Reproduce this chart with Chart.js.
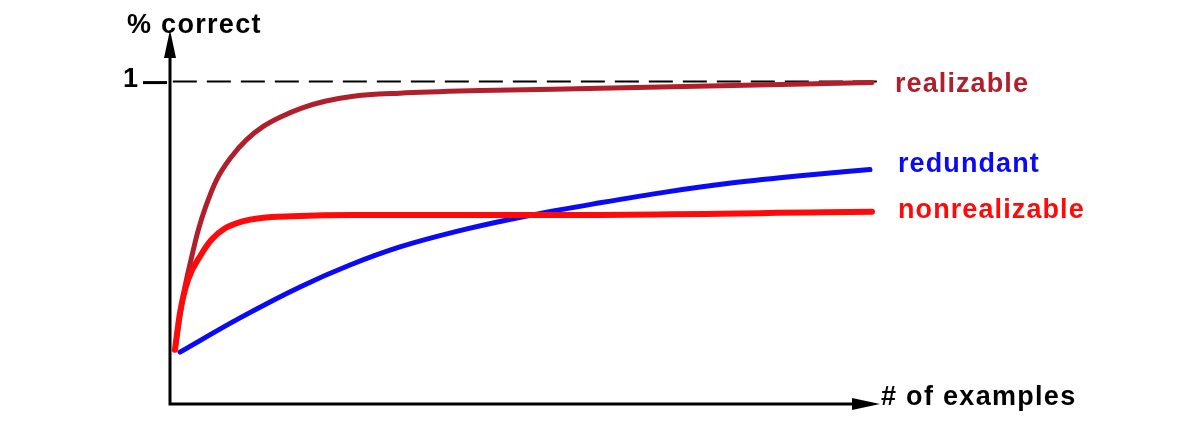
<!DOCTYPE html>
<html lang="en">
<head>
  <meta charset="UTF-8" />
  <title>% correct vs # of examples</title>
  <script src="https://cdn.jsdelivr.net/npm/chart.js"></script>
  <style>
    html, body { margin: 0; padding: 0; background: #fff; }
    #chart { display: block; }
  </style>
</head>
<body>
  <canvas id="chart" width="1200" height="438"></canvas>

  <script>
    // values (x: 0..100 along the axis, y: fraction correct)
    const realizableX = [0.7, 1.83, 3.06, 3.99, 5.03, 6.58, 8.69, 10.8, 13.14, 15.73, 18.55, 21.83, 25.59, 32.39, 43.66, 60.56, 98.87];
    const realizableY = [0.168, 0.332, 0.457, 0.54, 0.612, 0.696, 0.768, 0.82, 0.861, 0.892, 0.918, 0.939, 0.954, 0.964, 0.972, 0.979, 0.997];

    const redundantX = [1.41, 9.86, 18.31, 25.35, 32.39, 41.83, 51.13, 60.56, 70.0, 79.3, 88.73, 98.59];
    const redundantY = [0.161, 0.267, 0.363, 0.431, 0.487, 0.543, 0.587, 0.624, 0.658, 0.686, 0.708, 0.727];

    const nonrealizableX = [0.7, 1.41, 2.54, 4.37, 5.87, 7.75, 10.1, 12.92, 17.14, 25.59, 51.13, 98.87];
    const nonrealizableY = [0.168, 0.283, 0.385, 0.463, 0.51, 0.545, 0.566, 0.577, 0.582, 0.586, 0.586, 0.596];

    const ceilingX = [0.4, 100];
    const ceilingY = [1, 1];

    const seriesNames = ['nonrealizable', 'realizable', 'redundant'];
    const yTickValue = 1;
    const yTickLabel = '1';
    const yAxisTitle = '% correct';
    const xAxisTitle = '# of examples';

    const colors = {
      realizable: '#b01f2b',
      redundant: '#0a0af5',
      nonrealizable: '#ff0a0a'
    };
    const widths = { realizable: 5, redundant: 5, nonrealizable: 6 };

    const toPoints = (xs, ys) => xs.map((x, i) => ({ x: x, y: ys[i] }));

    const FONT = '"Liberation Sans", Arial, Helvetica, sans-serif';

    // axes with arrows, the "1" tick, axis titles and series labels
    const decorations = {
      id: 'decorations',
      afterDatasetsDraw(chart) {
        const ctx = chart.ctx;
        const xs = chart.scales.x;
        const ys = chart.scales.y;
        const x0 = xs.getPixelForValue(0);
        const x1 = xs.getPixelForValue(100);
        const y0 = ys.getPixelForValue(0);
        const yTop = chart.chartArea.top;

        ctx.save();
        ctx.strokeStyle = '#000';
        ctx.fillStyle = '#000';
        ctx.lineWidth = 3;
        ctx.lineCap = 'square';

        // axis lines
        ctx.beginPath();
        ctx.moveTo(x0, yTop + 20);
        ctx.lineTo(x0, y0);
        ctx.lineTo(x1 - 20, y0);
        ctx.stroke();

        // arrow heads
        ctx.beginPath();
        ctx.moveTo(x0, yTop);
        ctx.lineTo(x0 - 6, yTop + 28);
        ctx.lineTo(x0 + 6, yTop + 28);
        ctx.closePath();
        ctx.fill();

        ctx.beginPath();
        ctx.moveTo(x1, y0);
        ctx.lineTo(x1 - 28, y0 - 6);
        ctx.lineTo(x1 - 28, y0 + 6);
        ctx.closePath();
        ctx.fill();

        // tick at 1
        const yt = ys.getPixelForValue(yTickValue);
        ctx.lineWidth = 3;
        ctx.lineCap = 'butt';
        ctx.beginPath();
        ctx.moveTo(x0 - 27, yt + 1);
        ctx.lineTo(x0 - 3, yt + 1);
        ctx.stroke();

        ctx.textBaseline = 'alphabetic';
        ctx.textAlign = 'left';
        ctx.font = 'bold 27px ' + FONT;
        ctx.letterSpacing = '0px';
        ctx.fillText(yTickLabel, x0 - 47, yt + 5);

        // axis titles
        ctx.letterSpacing = '1.3px';
        ctx.fillText(yAxisTitle, x0 - 43, yTop + 3);
        ctx.fillText(xAxisTitle, x1 + 1, y0 + 1);

        // series labels at the end of each curve
        const offsets = {
          realizable: { dx: 23, dy: 9 },
          redundant: { dx: 28, dy: 2 },
          nonrealizable: { dx: 26, dy: 6 }
        };
        chart.data.datasets.forEach((ds, i) => {
          if (!seriesNames.includes(ds.label)) return;
          const pts = chart.getDatasetMeta(i).data;
          const last = pts[pts.length - 1];
          const off = offsets[ds.label];
          ctx.fillStyle = colors[ds.label];
          ctx.letterSpacing = '1.1px';
          ctx.fillText(ds.label, last.x + off.dx, last.y + off.dy);
        });

        ctx.restore();
      }
    };

    const curve = (label, xs, ys) => ({
      label: label,
      data: toPoints(xs, ys),
      borderColor: colors[label],
      borderWidth: widths[label],
      pointRadius: 0,
      fill: false,
      cubicInterpolationMode: 'monotone',
      borderCapStyle: 'round',
      borderJoinStyle: 'round'
    });

    new Chart(document.getElementById('chart'), {
      type: 'line',
      data: {
        datasets: [
          curve('nonrealizable', nonrealizableX, nonrealizableY),
          curve('realizable', realizableX, realizableY),
          curve('redundant', redundantX, redundantY),
          {
            label: 'ceiling',
            data: toPoints(ceilingX, ceilingY),
            borderColor: '#000',
            borderWidth: 2,
            borderDash: [24, 10],
            pointRadius: 0,
            fill: false
          }
        ]
      },
      options: {
        responsive: false,
        animation: false,
        layout: {
          padding: { left: 170, right: 320, top: 30, bottom: 34 }
        },
        scales: {
          x: { type: 'linear', min: 0, max: 100, display: false },
          y: { type: 'linear', min: 0, max: 1.16, display: false }
        },
        plugins: {
          legend: { display: false },
          tooltip: { enabled: false }
        }
      },
      plugins: [decorations]
    });
  </script>
</body>
</html>
